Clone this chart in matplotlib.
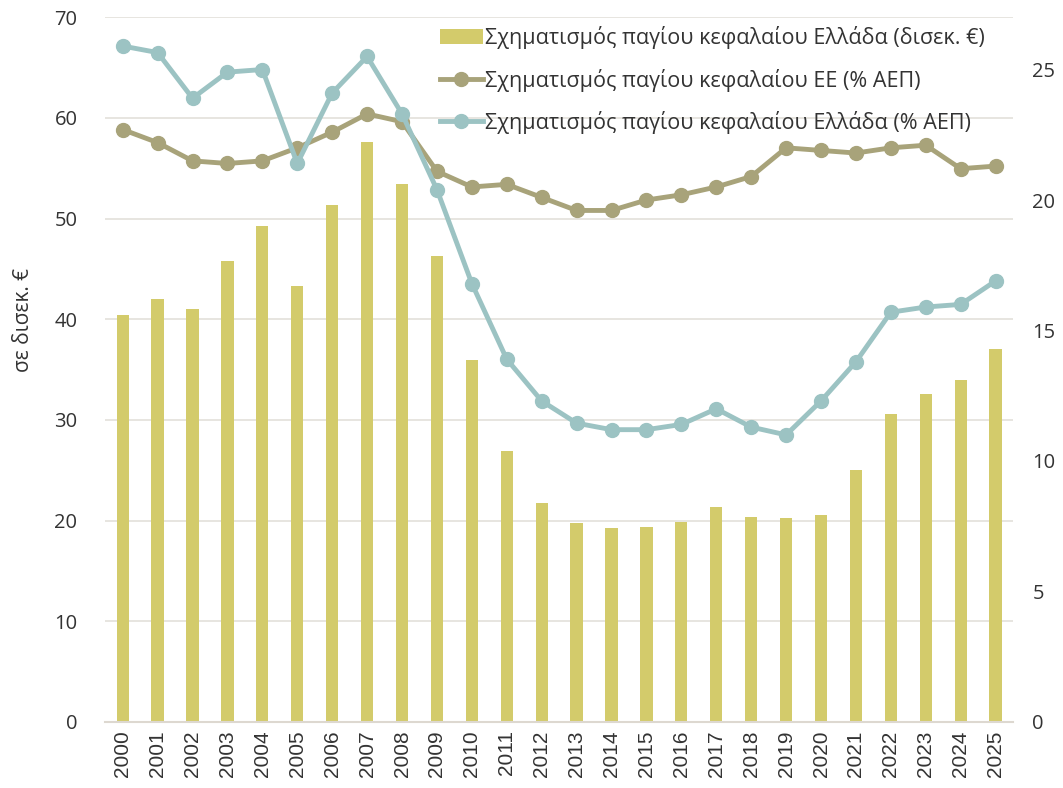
import numpy as np
import matplotlib.pyplot as plt

years = [str(y) for y in range(2000, 2026)]
gr_bn = [40.4, 42.0, 41.0, 45.8, 49.3, 43.3, 51.4, 57.6, 53.4, 46.3, 36.0, 26.9, 21.8,
         19.8, 19.3, 19.4, 19.9, 21.4, 20.4, 20.3, 20.6, 25.0, 30.6, 32.6, 34.0, 37.1]
eu_pct = [22.7, 22.2, 21.5, 21.4, 21.5, 22.0, 22.6, 23.3, 23.0, 21.1, 20.5, 20.6, 20.1,
          19.6, 19.6, 20.0, 20.2, 20.5, 20.9, 22.0, 21.9, 21.8, 22.0, 22.1, 21.2, 21.3]
gr_pct = [25.9, 25.65, 23.9, 24.9, 25.0, 21.4, 24.1, 25.5, 23.3, 20.4, 16.8, 13.9, 12.3,
          11.45, 11.2, 11.2, 11.4, 12.0, 11.3, 11.0, 12.3, 13.8, 15.7, 15.9, 16.0, 16.9]

plt.rcParams['font.family'] = ['Open Sans', 'DejaVu Sans']
txt = '#333333'

fig = plt.figure(figsize=(10.63, 7.88), dpi=100)
ax = fig.add_axes([0.099, 0.0838, 0.854, 0.8942])
ax2 = ax.twinx()

x = np.arange(len(years))
b = ax.bar(x, gr_bn, width=0.35, color='#D3CB6B', zorder=2,
           label='Σχηματισμός παγίου κεφαλαίου Ελλάδα (δισεκ. €)')
l1, = ax2.plot(x, eu_pct, color='#A8A37A', lw=3.5, marker='o', ms=10,
               label='Σχηματισμός παγίου κεφαλαίου ΕΕ (% ΑΕΠ)')
l2, = ax2.plot(x, gr_pct, color='#9CC3C3', lw=3.5, marker='o', ms=10,
               label='Σχηματισμός παγίου κεφαλαίου Ελλάδα (% ΑΕΠ)')

ax.set_xlim(-0.5, len(years) - 0.5)
ax.set_ylim(0, 70)
ax2.set_ylim(0, 27)
ax.set_yticks(range(0, 71, 10))
ax2.set_yticks(range(0, 26, 5))
ax.set_xticks(x)
ax.set_xticklabels(years, rotation=90, fontsize=15, color=txt, family='Liberation Sans')
ax.tick_params(axis='y', labelsize=14.5, colors=txt, length=0, pad=20)
ax2.tick_params(axis='y', labelsize=14.5, colors=txt, length=0, pad=14)
ax.tick_params(axis='x', length=0, pad=6)
ax.grid(axis='y', color='#E3E0DA', lw=1.2, zorder=0)
ax.set_axisbelow(True)
for a in (ax, ax2):
    for s in a.spines.values():
        s.set_visible(False)
ax.spines['bottom'].set_visible(True)
ax.spines['bottom'].set_color('#DDD8D0')
ax.spines['bottom'].set_linewidth(1.5)
ax.set_ylabel('σε δισεκ. €', fontsize=15, color=txt, labelpad=12)
ax.yaxis.set_label_coords(-0.078, 0.57)

ax2.legend(handles=[b, l1, l2], loc='upper right', bbox_to_anchor=(0.99, 1.015),
           frameon=False, fontsize=15.5, labelcolor=txt, handlelength=2.0,
           handletextpad=0.1, labelspacing=0.9)

fig.savefig('out.png', dpi=100)
